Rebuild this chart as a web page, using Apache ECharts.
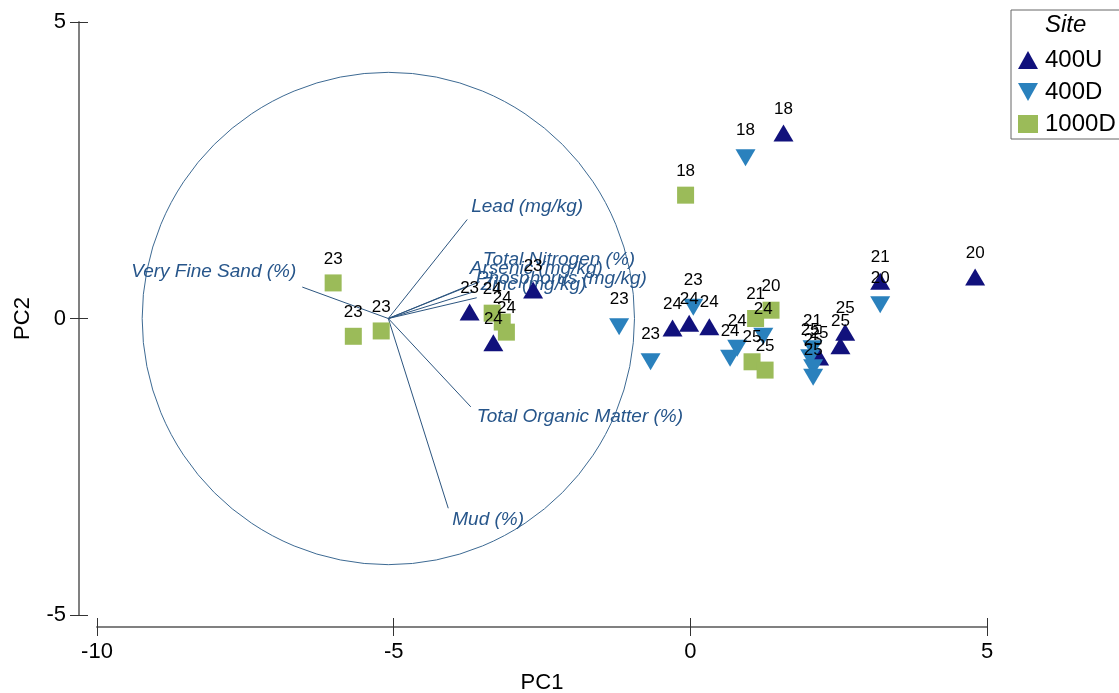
<!DOCTYPE html>
<html>
<head>
<meta charset="utf-8">
<script src="https://cdn.jsdelivr.net/npm/echarts@6/dist/echarts.min.js"></script>
<style>
html,body{margin:0;padding:0;background:#fff;}
#chart{width:1119px;height:693px;}
</style>
</head>
<body>
<div id="chart"></div>
<script>
// ---- Data ----
const xTicks = [-10, -5, 0, 5];
const yTicks = [-5, 0, 5];
const siteNames = ['400U', '400D', '1000D'];

// [PC1, PC2, label]
const site400U = [
  [1.57, 3.13, '18'],
  [3.20, 0.63, '21'],
  [4.80, 0.70, '20'],
  [-2.65, 0.48, '23'],
  [-3.72, 0.11, '23'],
  [-3.32, -0.41, '24'],
  [-0.30, -0.16, '24'],
  [-0.02, -0.08, '24'],
  [0.32, -0.14, '24'],
  [2.61, -0.23, '25'],
  [2.53, -0.46, '25'],
  [2.17, -0.65, '25']
];
const site400D = [
  [0.93, 2.71, '18'],
  [3.20, 0.23, '20'],
  [-1.20, -0.14, '23'],
  [-0.67, -0.73, '23'],
  [0.05, 0.19, '23'],
  [0.67, -0.67, '24'],
  [0.79, -0.50, '24'],
  [1.23, -0.30, '24'],
  [2.06, -0.51, '21'],
  [2.02, -0.66, '25'],
  [2.07, -0.83, '25'],
  [2.07, -0.99, '25']
];
const site1000D = [
  [-0.08, 2.08, '18'],
  [-6.02, 0.60, '23'],
  [-5.68, -0.30, '23'],
  [-5.21, -0.21, '23'],
  [-3.34, 0.09, '24'],
  [-3.17, -0.06, '24'],
  [-3.10, -0.23, '24'],
  [1.10, 0.00, '21'],
  [1.36, 0.14, '20'],
  [1.04, -0.73, '25'],
  [1.26, -0.87, '25']
];

// vector origin and circle
const vectorOrigin = [-5.09, 0];
const circleRadius = 4.15;
const vectorNames = ['Very Fine Sand (%)', 'Lead (mg/kg)', 'Total Nitrogen (%)', 'Arsenic (mg/kg)',
  'Phosphorus (mg/kg)', 'Zinc (mg/kg)', 'Total Organic Matter (%)', 'Mud (%)'];
const vectorEndX = [-6.54, -3.76, -3.55, -3.75, -3.65, -3.60, -3.70, -4.08];
const vectorEndY = [0.53, 1.67, 0.62, 0.55, 0.45, 0.35, -1.49, -3.20];

// label styling (pixel offsets from vector tip)
const vectorLabelStyle = [
  {dx: -6, dy: -15, align: 'right'},
  {dx: 4, dy: -13, align: 'left'},
  {dx: 3, dy: -22, align: 'left'},
  {dx: 2, dy: -17, align: 'left'},
  {dx: 2, dy: -13, align: 'left'},
  {dx: 4, dy: -13, align: 'left'},
  {dx: 6, dy: 10, align: 'left'},
  {dx: 4, dy: 11, align: 'left'}
];

const FONT = 'Liberation Sans, Arial, sans-serif';
const colors = {u: '#11117c', d: '#2a81bd', k: '#9bbb59'};
const vecColor = '#2c557f';

const upTri = 'path://M5,0 L10,9 L0,9 Z';
const downTri = 'path://M0,0 L10,0 L5,9 Z';

function pointSeries(name, data, symbol, size, color, dist) {
  return {
    name: name,
    type: 'scatter',
    data: data.map(d => ({value: [d[0], d[1]], label: {formatter: d[2]}})),
    symbol: symbol,
    symbolSize: size,
    itemStyle: {color: color, opacity: 1},
    label: {
      show: true,
      position: 'top',
      distance: dist,
      color: '#000',
      fontSize: 17,
      fontFamily: FONT
    },
    emphasis: {disabled: true},
    silent: true,
    z: 5
  };
}

const chart = echarts.init(document.getElementById('chart'), null, {renderer: 'canvas'});

const option = {
  animation: false,
  backgroundColor: '#ffffff',
  title: {
    text: 'Site',
    left: 1045,
    top: 13,
    padding: 0,
    textStyle: {fontSize: 24, fontStyle: 'italic', fontWeight: 'normal', color: '#000', fontFamily: FONT}
  },
  legend: {
    orient: 'vertical',
    left: 1011,
    top: 10,
    padding: [38, 20, 3, 7],
    itemGap: 8,
    itemWidth: 20,
    itemHeight: 18,
    borderColor: '#666',
    borderWidth: 1,
    borderRadius: 0,
    data: siteNames,
    textStyle: {fontSize: 24, color: '#000', fontFamily: FONT, padding: [0, 0, 0, 2]},
    selectedMode: false
  },
  grid: {left: 97, right: 132, top: 22, bottom: 78, containLabel: false, outerBoundsMode: 'none'},
  xAxis: [
    {
      type: 'value',
      min: xTicks[0], max: xTicks[xTicks.length - 1], interval: 5,
      position: 'bottom', offset: 12,
      name: 'PC1', nameLocation: 'middle', nameGap: 45,
      nameTextStyle: {fontSize: 22, color: '#000', fontFamily: FONT},
      axisLine: {show: true, onZero: false, lineStyle: {color: '#808080', width: 2}},
      axisTick: {show: true, inside: false, length: 9, lineStyle: {color: '#333', width: 1}},
      axisLabel: {fontSize: 22, color: '#000', margin: 14, fontFamily: FONT},
      splitLine: {show: false}
    },
    {
      type: 'value',
      min: xTicks[0], max: xTicks[xTicks.length - 1], interval: 5,
      position: 'bottom', offset: 12,
      axisLine: {show: false, onZero: false},
      axisTick: {show: true, inside: true, length: 9, lineStyle: {color: '#333', width: 1}},
      axisLabel: {show: false},
      splitLine: {show: false}
    }
  ],
  yAxis: [
    {
      type: 'value',
      min: yTicks[0], max: yTicks[yTicks.length - 1], interval: 5,
      position: 'left', offset: 18,
      name: 'PC2', nameLocation: 'middle', nameGap: 45,
      nameTextStyle: {fontSize: 22, color: '#000', fontFamily: FONT},
      axisLine: {show: true, onZero: false, lineStyle: {color: '#808080', width: 2}},
      axisTick: {show: true, inside: false, length: 9, lineStyle: {color: '#333', width: 1}},
      axisLabel: {fontSize: 22, color: '#000', margin: 13, fontFamily: FONT},
      splitLine: {show: false}
    },
    {
      type: 'value',
      min: yTicks[0], max: yTicks[yTicks.length - 1], interval: 5,
      position: 'left', offset: 18,
      axisLine: {show: false, onZero: false},
      axisTick: {show: true, inside: true, length: 9, lineStyle: {color: '#333', width: 1}},
      axisLabel: {show: false},
      splitLine: {show: false}
    }
  ],
  series: [
    {
      name: 'circle',
      type: 'custom',
      silent: true,
      clip: false,
      z: 1,
      data: [[vectorOrigin[0], vectorOrigin[1], circleRadius]],
      encode: {x: 0, y: 1},
      renderItem: function (params, api) {
        const c = api.coord([api.value(0), api.value(1)]);
        const s = api.size([api.value(2), api.value(2)]);
        return {
          type: 'circle',
          shape: {cx: c[0], cy: c[1], r: (s[0] + s[1]) / 2},
          style: {fill: 'none', stroke: '#3d6a93', lineWidth: 1}
        };
      }
    },
    {
      name: 'vectors',
      type: 'custom',
      silent: true,
      clip: false,
      z: 2,
      data: vectorNames.map((n, i) => [vectorOrigin[0], vectorOrigin[1], vectorEndX[i], vectorEndY[i], i]),
      encode: {x: [0, 2], y: [1, 3]},
      renderItem: function (params, api) {
        const i = api.value(4);
        const p0 = api.coord([api.value(0), api.value(1)]);
        const p1 = api.coord([api.value(2), api.value(3)]);
        const st = vectorLabelStyle[i];
        return {
          type: 'group',
          children: [
            {
              type: 'line',
              shape: {x1: p0[0], y1: p0[1], x2: p1[0], y2: p1[1]},
              style: {stroke: vecColor, lineWidth: 1}
            },
            {
              type: 'text',
              x: p1[0] + st.dx,
              y: p1[1] + st.dy,
              style: {
                text: vectorNames[i],
                fill: '#26558a',
                fontSize: 19,
                fontStyle: 'italic',
                fontFamily: FONT,
                align: st.align,
                verticalAlign: 'middle'
              }
            }
          ]
        };
      }
    },
    pointSeries(siteNames[0], site400U, upTri, [20, 17], colors.u, 7),
    pointSeries(siteNames[1], site400D, downTri, [20, 17], colors.d, 10),
    pointSeries(siteNames[2], site1000D, 'rect', [17, 17], colors.k, 7)
  ]
};

chart.setOption(option);
</script>
</body>
</html>
